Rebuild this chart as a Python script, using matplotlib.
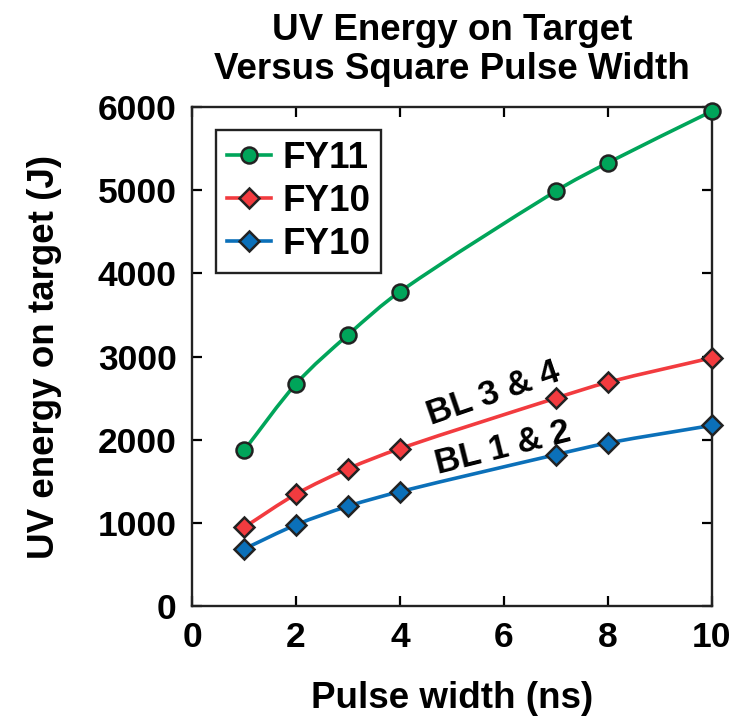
import numpy as np
import matplotlib
matplotlib.use("Agg")
import matplotlib.pyplot as plt
from matplotlib.path import Path
from matplotlib.patches import PathPatch
from matplotlib.lines import Line2D

plt.rcParams['font.family'] = ['Liberation Sans', 'DejaVu Sans']
plt.rcParams['font.weight'] = 'bold'

# ---- data ----
pulse_width = [1, 2, 3, 4, 7, 8, 10]
fy11 = [1870, 2670, 3260, 3780, 4990, 5330, 5950]
fy10_bl34 = [945, 1345, 1650, 1893, 2500, 2690, 2985]
fy10_bl12 = [685, 976, 1200, 1375, 1820, 1960, 2172]
series_labels = ["FY11", "FY10", "FY10"]
x_ticks = [0, 2, 4, 6, 8, 10]
y_ticks = [0, 1000, 2000, 3000, 4000, 5000, 6000]

colors = ['#00a55a', '#f23b3f', '#0b70b9']
markers = ['o', 'D', 'D']
msizes = [11.5, 10.5, 10.5]
edge = '#222222'


def smooth_path(xs, ys):
    """Bezier path through the data points (rendered by matplotlib)."""
    xs = np.asarray(xs, float)
    ys = np.asarray(ys, float)
    n = len(xs)
    m = np.zeros(n)
    m[0] = (ys[1] - ys[0]) / (xs[1] - xs[0])
    m[-1] = (ys[-1] - ys[-2]) / (xs[-1] - xs[-2])
    for i in range(1, n - 1):
        m[i] = (ys[i + 1] - ys[i - 1]) / (xs[i + 1] - xs[i - 1])
    verts = [(xs[0], ys[0])]
    codes = [Path.MOVETO]
    for i in range(n - 1):
        dx = xs[i + 1] - xs[i]
        verts += [(xs[i] + dx / 3, ys[i] + m[i] * dx / 3),
                  (xs[i + 1] - dx / 3, ys[i + 1] - m[i + 1] * dx / 3),
                  (xs[i + 1], ys[i + 1])]
        codes += [Path.CURVE4] * 3
    return Path(verts, codes)


fig = plt.figure(figsize=(7.45, 7.17), dpi=100)
ax = fig.add_axes([192 / 745, 1 - 606 / 717, 520 / 745, 499 / 717])

handles = []
for ys, c, mk, ms, lab in zip([fy11, fy10_bl34, fy10_bl12], colors, markers, msizes, series_labels):
    ax.add_patch(PathPatch(smooth_path(pulse_width, ys), facecolor='none',
                           edgecolor=c, lw=2.6, zorder=2))
    ax.plot(pulse_width, ys, linestyle='none', marker=mk, ms=ms, mfc=c,
            mec=edge, mew=1.8, zorder=3, clip_on=False)
    handles.append(Line2D([], [], color=c, lw=2.6, marker=mk, ms=ms, mfc=c,
                          mec=edge, mew=1.8))

ax.set_xlim(0, 10)
ax.set_ylim(0, 6000)
ax.set_xticks(x_ticks)
ax.set_yticks(y_ticks)
ax.tick_params(direction='in', length=7, width=1.6, top=True, right=True,
               labelsize=25.5, pad=11)
for lbl in ax.get_xticklabels() + ax.get_yticklabels():
    lbl.set_fontweight('bold')
for s in ax.spines.values():
    s.set_linewidth(1.7)
    s.set_color('#222222')

ax.set_xlabel("Pulse width (ns)", fontsize=26.5, fontweight='bold', labelpad=19)
ax.set_ylabel("UV energy on target (J)", fontsize=26.5, fontweight='bold', labelpad=26)

fig.text(452 / 745, 1 - 50 / 717, "UV Energy on Target\nVersus Square Pulse Width",
         ha='center', va='center', fontsize=26.5, fontweight='bold', linespacing=1.12)

ax.text(5.8, 2560, "BL 3 & 4", rotation=19, rotation_mode='anchor',
        ha='center', va='center', fontsize=25, fontweight='bold', zorder=4)
ax.text(5.98, 1900, "BL 1 & 2", rotation=14, rotation_mode='anchor',
        ha='center', va='center', fontsize=25, fontweight='bold', zorder=4)

leg = ax.legend(handles, series_labels, loc='upper left', bbox_to_anchor=(0.046, 0.954),
                borderaxespad=0, handlelength=1.2, handletextpad=0.3,
                labelspacing=0.22, borderpad=0.3, fancybox=False, framealpha=1,
                edgecolor='#222222', prop={'weight': 'bold', 'size': 26.5})
leg.get_frame().set_linewidth(1.7)

fig.savefig("out.png", dpi=100)
